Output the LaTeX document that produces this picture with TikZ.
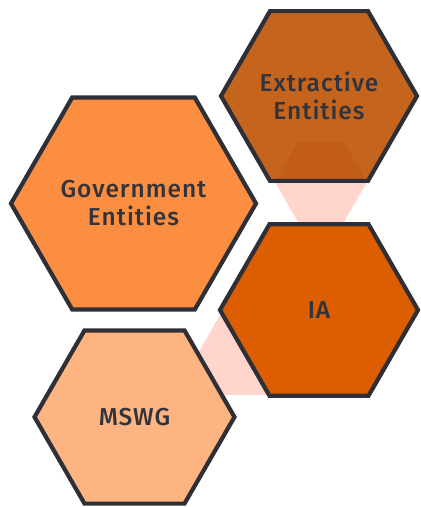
\documentclass[tikz,border=0pt]{standalone}
\usepackage{fontspec}
\setmainfont{Fira Sans}[UprightFont=* Medium, LetterSpace=4]
\usetikzlibrary{shapes.geometric}
\definecolor{edgec}{HTML}{2F3037}
\definecolor{textc}{HTML}{32343D}
\definecolor{extc}{HTML}{C5651D}
\definecolor{extin}{HTML}{C25D19}
\definecolor{govc}{HTML}{FB8E40}
\definecolor{iac}{HTML}{DC5E00}
\definecolor{mswgc}{HTML}{FDB480}
\definecolor{pinkc}{HTML}{FFD5CC}
\tikzset{
  hexbox/.style={regular polygon, regular polygon sides=6, inner sep=0pt, outer sep=0pt,
    draw=edgec, line width=4.2pt, line join=miter, text=textc, align=center,
    font=\fontsize{24.5}{28}\selectfont},
  pinkhex/.style={regular polygon, regular polygon sides=6, inner sep=0pt, outer sep=0pt,
    fill=pinkc, draw=none}
}
\begin{document}
\begin{tikzpicture}[x=1pt,y=-1pt]
\useasboundingbox (0,0) rectangle (421,507);
% pale connectors
\node[pinkhex, minimum size=92pt] (p1) at (321,182) {};
\node[pinkhex, minimum size=92pt] (p2) at (243,355) {};
% hexagons
\node[hexbox, fill=govc, minimum size=245pt] (gov) at (133.5,203.5) {Government\\Entities};
\node[hexbox, fill=extc, draw=none, minimum size=196pt] (ext0) at (319,96) {};
\begin{scope}
  \clip (ext0.corner 1) -- (ext0.corner 2) -- (ext0.corner 3) -- (ext0.corner 4) -- (ext0.corner 5) -- (ext0.corner 6) -- cycle;
  \fill[extin] (p1.corner 1) -- (p1.corner 2) -- (p1.corner 3) -- (p1.corner 4) -- (p1.corner 5) -- (p1.corner 6) -- cycle;
\end{scope}
\node[hexbox, minimum size=196pt] (ext) at (319,96) {Extractive\\Entities};
\node[hexbox, fill=iac, minimum size=198pt] (ia) at (319,310) {IA};
\node[hexbox, fill=mswgc, minimum size=200pt] (mswg) at (134.5,417) {MSWG};
\end{tikzpicture}
\end{document}
